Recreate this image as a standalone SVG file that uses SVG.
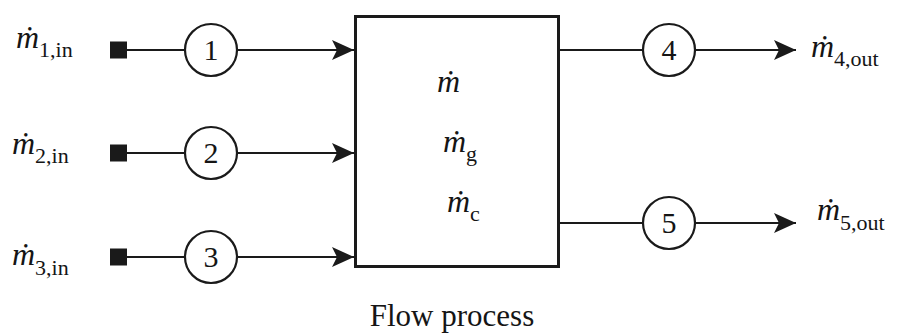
<svg xmlns="http://www.w3.org/2000/svg" width="899" height="333" viewBox="0 0 899 333">
<style>
.t{font-family:"Liberation Serif","Times New Roman",serif;fill:#151515}
.m{font-style:italic;font-size:32px}
.s{font-size:22px}
.num{font-size:30px;text-anchor:middle}
.ln{stroke:#1a1a1a;stroke-width:2.2;fill:none}
.circ{fill:#fff;stroke:#1a1a1a;stroke-width:2.2}
.sq{fill:#1a1a1a}
</style>
<defs>
<marker id="ah" markerWidth="22" markerHeight="20" refX="22" refY="10" orient="auto" markerUnits="userSpaceOnUse">
<path d="M0,0 L22,10 L0,20 L5,10 Z" fill="#1a1a1a"/>
</marker>
</defs>
<rect width="899" height="333" fill="#fff"/>
<g id="connectors">
<line class="ln" x1="127" y1="50" x2="185" y2="50"/>
<line class="ln" x1="237" y1="50" x2="354" y2="50" marker-end="url(#ah)"/>
<line class="ln" x1="127" y1="153" x2="185" y2="153"/>
<line class="ln" x1="237" y1="153" x2="354" y2="153" marker-end="url(#ah)"/>
<line class="ln" x1="127" y1="257" x2="185" y2="257"/>
<line class="ln" x1="237" y1="257" x2="354" y2="257" marker-end="url(#ah)"/>
<line class="ln" x1="559" y1="50" x2="643" y2="50"/>
<line class="ln" x1="695" y1="50" x2="796" y2="50" marker-end="url(#ah)"/>
<line class="ln" x1="559" y1="223" x2="643" y2="223"/>
<line class="ln" x1="695" y1="223" x2="796" y2="223" marker-end="url(#ah)"/>
</g>
<g id="process">
<rect x="355.5" y="16.5" width="203" height="250" fill="#fff" stroke="#1a1a1a" stroke-width="3"/>
<text class="t"><tspan class="m" x="437" y="92">ṁ</tspan></text>
<text class="t"><tspan class="m" x="443" y="152">ṁ</tspan><tspan class="s" dy="9">g</tspan></text>
<text class="t"><tspan class="m" x="447" y="212">ṁ</tspan><tspan class="s" dy="9">c</tspan></text>
<text class="t" x="452" y="326" font-size="31" text-anchor="middle">Flow process</text>
</g>
<g id="in1">
<rect class="sq" x="110" y="41.5" width="17" height="17"/>
<text class="t"><tspan class="m" x="16" y="48">ṁ</tspan><tspan class="s" dy="9">1,in</tspan></text>
</g>
<g id="in2">
<rect class="sq" x="110" y="144.5" width="17" height="17"/>
<text class="t"><tspan class="m" x="12" y="154">ṁ</tspan><tspan class="s" dy="9">2,in</tspan></text>
</g>
<g id="in3">
<rect class="sq" x="110" y="248.5" width="17" height="17"/>
<text class="t"><tspan class="m" x="12" y="265">ṁ</tspan><tspan class="s" dy="10">3,in</tspan></text>
</g>
<g id="state1"><circle class="circ" cx="211" cy="50" r="26"/><text class="t num" x="211" y="60">1</text></g>
<g id="state2"><circle class="circ" cx="211" cy="153" r="26"/><text class="t num" x="211" y="163">2</text></g>
<g id="state3"><circle class="circ" cx="211" cy="257" r="26"/><text class="t num" x="211" y="267">3</text></g>
<g id="state4"><circle class="circ" cx="669" cy="50" r="26"/><text class="t num" x="669" y="60">4</text></g>
<g id="state5"><circle class="circ" cx="669" cy="223" r="26"/><text class="t num" x="669" y="233">5</text></g>
<g id="out4">
<text class="t"><tspan class="m" x="811" y="57">ṁ</tspan><tspan class="s" dy="9">4,out</tspan></text>
</g>
<g id="out5">
<text class="t"><tspan class="m" x="817" y="220">ṁ</tspan><tspan class="s" dy="10">5,out</tspan></text>
</g>
</svg>
